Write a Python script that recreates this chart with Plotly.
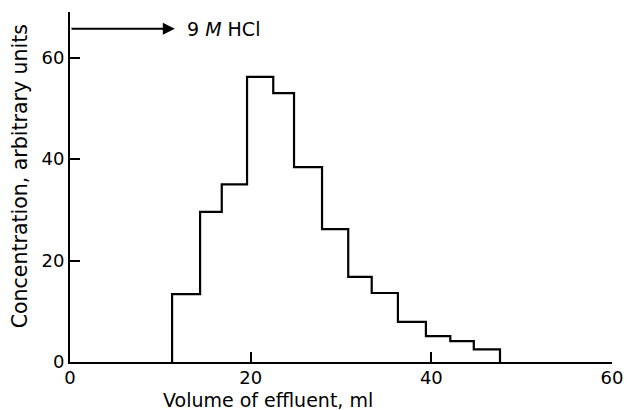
import plotly.graph_objects as go

# Bin edges (ml) and concentrations (arbitrary units)
edges = [11.3, 14.4, 16.8, 19.6, 22.5, 24.8, 27.9, 30.8, 33.4, 36.3, 39.4, 42.1, 44.7, 47.6]
conc = [13.4, 29.6, 35.0, 56.2, 53.0, 38.4, 26.2, 16.8, 13.6, 7.9, 5.1, 4.1, 2.5]
x_ticks = [0, 20, 40, 60]
y_ticks = [0, 20, 40, 60]
arrow_start = 0
arrow_end = 11.6
arrow_level = 65.7
arrow_label = "9 <i>M</i> HCl"
x_title = "Volume of effluent, ml"
y_title = "Concentration, arbitrary units"

xs = [edges[0]] + edges
ys = [0] + conc + [0]

FONT = "DejaVu Sans"

fig = go.Figure()
fig.add_trace(go.Scatter(
    x=xs, y=ys, mode="lines", line=dict(shape="hv", color="black", width=2.2),
    showlegend=False, hoverinfo="skip"))

fig.add_annotation(x=arrow_end, y=arrow_level, ax=arrow_start, ay=arrow_level,
                   xref="x", yref="y", axref="x", ayref="y",
                   showarrow=True, arrowhead=2, arrowsize=1.2, arrowwidth=2,
                   arrowcolor="black", text="")
fig.add_annotation(x=arrow_end + 1.1, y=arrow_level, xref="x", yref="y",
                   text=arrow_label, showarrow=False, xanchor="left",
                   font=dict(family=FONT, size=19, color="black"))

# axis titles
fig.add_annotation(x=0.365, y=-0.108, xref="paper", yref="paper",
                   text=x_title, showarrow=False, xanchor="center", yanchor="middle",
                   font=dict(family=FONT, size=19, color="black"))
fig.add_annotation(x=-0.092, y=0.531, xref="paper", yref="paper",
                   text=y_title, showarrow=False, textangle=-90,
                   xanchor="center", yanchor="middle",
                   font=dict(family=FONT, size=20.5, color="black"))

fig.update_layout(
    width=627, height=410,
    margin=dict(l=70, r=15, t=12, b=48),
    paper_bgcolor="white", plot_bgcolor="white",
    font=dict(family=FONT, size=18, color="black"),
    xaxis=dict(range=[0, 60], tickvals=x_ticks, ticks="inside", ticklen=10,
               tickwidth=2, tickcolor="black", showline=True, linecolor="black",
               linewidth=2, showgrid=False, zeroline=False, automargin=False,
               ticklabeloverflow="allow", ticklabelstandoff=-2),
    yaxis=dict(range=[0, 69], tickvals=y_ticks, ticks="inside", ticklen=10,
               tickwidth=2, tickcolor="black", showline=True, linecolor="black",
               linewidth=2, showgrid=False, zeroline=False, automargin=False,
               ticklabeloverflow="allow"),
)

fig.write_html("out.html")
